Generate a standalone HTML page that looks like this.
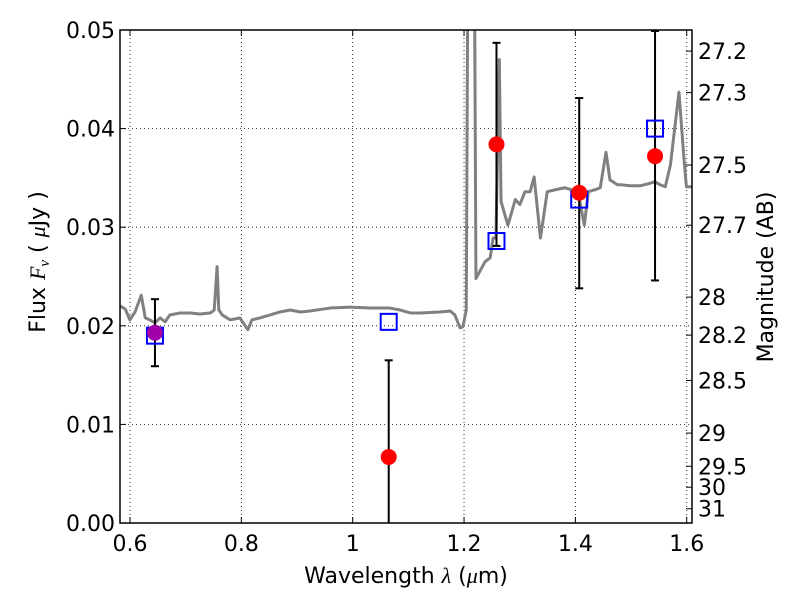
<!DOCTYPE html>
<html><head><meta charset="utf-8"><style>
body{margin:0;background:#fff}
svg{display:block}
text{font-family:"DejaVu Sans","Liberation Sans",sans-serif;fill:#000}
</style></head><body>
<svg id="c" width="800" height="600" xmlns="http://www.w3.org/2000/svg"></svg>
<script>
const specWave=[0.5823,0.5915,0.5997,0.6089,0.6202,0.6274,0.6356,0.6448,0.6540,0.6632,0.6714,0.6898,0.7083,0.7257,0.7441,0.7513,0.7564,0.7595,0.7656,0.7800,0.7974,0.8117,0.8189,0.8332,0.8517,0.8691,0.8875,0.9060,0.9234,0.9592,0.9951,1.0310,1.0668,1.0853,1.1037,1.1211,1.1570,1.1753,1.1835,1.1928,1.1979,1.2040,1.2071,1.2112,1.2184,1.2214,1.2378,1.2470,1.2522,1.2573,1.2634,1.2665,1.2788,1.2921,1.3003,1.3095,1.3187,1.3259,1.3372,1.3495,1.3638,1.3812,1.4048,1.4161,1.4232,1.4355,1.4447,1.4550,1.4621,1.4755,1.4836,1.4980,1.5164,1.5308,1.5431,1.5523,1.5615,1.5707,1.5861,1.5953,1.5994,1.6097];
const specFlux=[0.0220,0.0217,0.0206,0.0214,0.0231,0.0208,0.0206,0.0203,0.0208,0.0204,0.0211,0.0213,0.0213,0.0212,0.0213,0.0216,0.0260,0.0216,0.0211,0.0206,0.0208,0.0196,0.0206,0.0208,0.0211,0.0214,0.0216,0.0214,0.0215,0.0218,0.0219,0.0218,0.0218,0.0216,0.0213,0.0213,0.0214,0.0215,0.0211,0.0198,0.0199,0.0216,0.06,0.06,0.06,0.0248,0.0265,0.0269,0.0289,0.0289,0.0470,0.0326,0.0302,0.0328,0.0323,0.0336,0.0336,0.0351,0.0289,0.0336,0.0338,0.0340,0.0336,0.0302,0.0336,0.0338,0.0340,0.0376,0.0348,0.0343,0.0343,0.0342,0.0342,0.0344,0.0346,0.0343,0.0341,0.0363,0.0437,0.0368,0.0341,0.0341];
const obsWave=[0.6448,1.0647,1.2583,1.4069,1.5431];
const obsFlux=[0.0193,0.0067,0.0384,0.0335,0.0372];
const obsErrLo=[0.0159,-0.003,0.0281,0.0238,0.0246];
const obsErrHi=[0.0227,0.0165,0.0487,0.0431,0.0499];
const modelFlux=[0.0190,0.0204,0.0286,0.0328,0.0400];
const xTicks=[0.6,0.8,1.0,1.2,1.4,1.6];
const xTickLabels=["0.6","0.8","1","1.2","1.4","1.6"];
const yTicks=[0,0.01,0.02,0.03,0.04,0.05];
const yTickLabels=["0.00","0.01","0.02","0.03","0.04","0.05"];
const magTicks=[27.2,27.3,27.5,27.7,28,28.2,28.5,29,29.5,30,31];

const L=120,R=692,T=30,B=523,X0=0.582,X1=1.6095,Y0=0,Y1=0.05;
const sx=v=>L+(v-X0)/(X1-X0)*(R-L);
const sy=v=>B-(v-Y0)/(Y1-Y0)*(B-T);
const svg=document.getElementById('c');
const NS="http://www.w3.org/2000/svg";
function mk(tag,at,parent){const e=document.createElementNS(NS,tag);for(const k in at)e.setAttribute(k,at[k]);(parent||svg).appendChild(e);return e;}
const cp=mk('clipPath',{id:'pc'});
mk('rect',{x:L,y:T,width:R-L,height:B-T},cp);
const plot=mk('g',{'clip-path':'url(#pc)'});


xTicks.forEach(v=>{const g=mk('line',{x1:sx(v),x2:sx(v),y1:T,y2:B,stroke:'#000','stroke-width':0.8,'stroke-dasharray':'1,3'},plot);

});
yTicks.forEach(v=>{const g=mk('line',{x1:L,x2:R,y1:sy(v),y2:sy(v),stroke:'#000','stroke-width':0.8,'stroke-dasharray':'1,3'},plot);

});
const sp=mk('polyline',{points:specWave.map((w,i)=>sx(w)+','+sy(specFlux[i])).join(' '),fill:'none',stroke:'#808080','stroke-width':3,'stroke-linejoin':'round'},plot);


obsWave.forEach((w,i)=>{const g=mk('g',{},plot);


const x=sx(w);mk('line',{x1:x,x2:x,y1:sy(obsErrLo[i]),y2:sy(obsErrHi[i]),stroke:'#000','stroke-width':2},g);
[obsErrLo[i],obsErrHi[i]].forEach(v=>mk('line',{x1:x-4,x2:x+4,y1:sy(v),y2:sy(v),stroke:'#000','stroke-width':2},g));});
obsWave.forEach((w,i)=>{const s=mk('rect',{x:sx(w)-8,y:sy(modelFlux[i])-8,width:16,height:16,fill:'none',stroke:'#0000ff','stroke-width':2},plot);

});
obsWave.forEach((w,i)=>{const c=mk('circle',{cx:sx(w),cy:sy(obsFlux[i]),r:8,fill:i===0?'#a000a8':'#ff0000'},plot);

});
const fr=mk('rect',{x:L,y:T,width:R-L,height:B-T,fill:'none',stroke:'#000','stroke-width':1.5});


xTicks.forEach((v,i)=>{const x=sx(v);
mk('line',{x1:x,x2:x,y1:B,y2:B-6,stroke:'#000'});mk('line',{x1:x,x2:x,y1:T,y2:T+6,stroke:'#000'});
const t=mk('text',{x:x,y:B+28,'text-anchor':'middle','font-size':22});t.textContent=xTickLabels[i];

});
yTicks.forEach((v,i)=>{const y=sy(v);
mk('line',{x1:L,x2:L+6,y1:y,y2:y,stroke:'#000'});
const t=mk('text',{x:L-5,y:y+8,'text-anchor':'end','font-size':22});t.textContent=yTickLabels[i];

});
magTicks.forEach(m=>{const y=sy(Math.pow(10,(23.9-m)/2.5));
mk('line',{x1:R,x2:R-6,y1:y,y2:y,stroke:'#000'});
const t=mk('text',{x:R+6,y:y+8,'font-size':22});t.textContent=String(m);

});
</script>
<svg style="position:absolute;left:0;top:0" width="800" height="600" xmlns="http://www.w3.org/2000/svg">
<text x="406" y="583" text-anchor="middle" font-size="22">Wavelength  <tspan font-family="Liberation Serif" font-style="italic">λ</tspan> (<tspan font-family="Liberation Serif" font-style="italic">μ</tspan>m)</text>
<text transform="translate(45,262) rotate(-90)" text-anchor="middle" font-size="22">Flux  <tspan font-family="Liberation Serif" font-style="italic">F<tspan font-size="15" dy="4">ν</tspan></tspan><tspan dy="-4">  (  </tspan><tspan font-family="Liberation Serif" font-style="italic">μ</tspan>Jy )</text>
<text transform="translate(773,277) rotate(-90)" text-anchor="middle" font-size="22">Magnitude (AB)</text>
</svg>
</body></html>
